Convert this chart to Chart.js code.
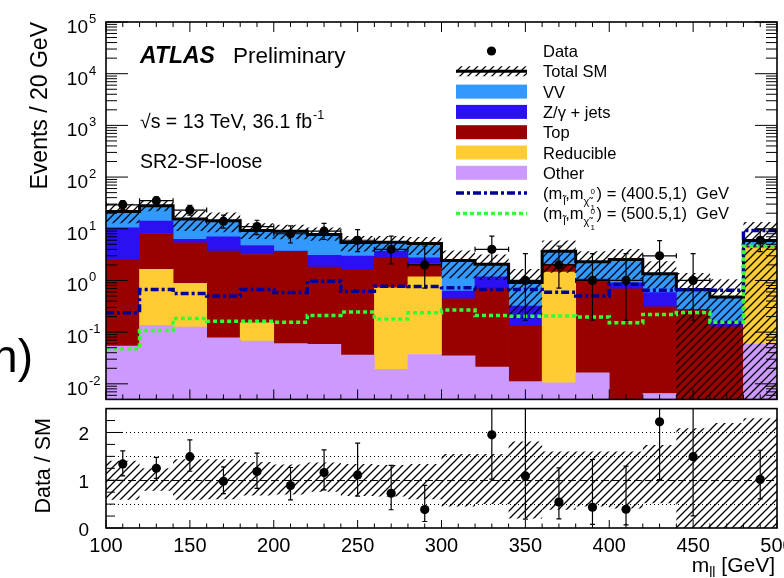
<!DOCTYPE html>
<html>
<head>
<meta charset="utf-8">
<script src="https://cdn.jsdelivr.net/npm/chart.js@4.4.1/dist/chart.umd.min.js"></script>
<style>
  html, body { margin: 0; padding: 0; background: #fff; }
  #wrap { position: relative; width: 784px; height: 578px; overflow: hidden; }
  canvas { position: absolute; left: 0; }
  #main { top: 0; }
  #ratio { top: 404px; }
</style>
</head>
<body>
<div id="wrap">
  <canvas id="main" width="784" height="404"></canvas>
  <canvas id="ratio" width="784" height="174"></canvas>
</div>
<script>
/* m_ll distribution in SR2-SF-loose, stacked SM backgrounds + data + two signal points */

/**************** Data *************************/

// 20 GeV bins in m_ll, last bin holds the overflow
const binLow    = [100, 120, 140, 160, 180, 200, 220, 240, 260, 280, 300, 320, 340, 360, 380, 400, 420, 440, 460, 480];
const binCentre = [110, 130, 150, 170, 190, 210, 230, 250, 270, 290, 310, 330, 350, 370, 390, 410, 430, 450, 470, 490];

// background yields per bin (stack order: bottom -> top)
const other     = [0.054, 0.135, 0.125, 0.078, 0.067, 0.060, 0.058, 0.036, 0.019, 0.037, 0.035, 0.021, 0.011, 0.0105, 0.0164, 0, 0.0065, 0, 0, 0.058];
const reducible = [0, 1.50, 0.75, 0, 0.085, 0, 0, 0, 0.70, 1.14, 0, 0, 0, 1.44, 0, 0, 0, 0, 0, 4.24];
const topBkg    = [2.42, 6.47, 4.49, 3.61, 3.03, 3.47, 1.75, 1.54, 2.03, 0.95, 0.405, 0.67, 0.12, 0.59, 1.034, 0.69, 0.3035, 0.275, 0.127, 0.15];
const zjets     = [7.93, 5.9, 0.85, 3.31, 1.57, 0.16, 1.24, 1.37, 0.94, 0.62, 0.18, 0.49, 0.187, 0.02, 0.01, 0.21, 0.27, 0, 0.036, 0.15];
const vv        = [11.2, 14.0, 9.19, 7.3, 4.55, 5.31, 4.71, 2.45, 1.81, 2.45, 1.82, 0.87, 0.60, 1.63, 1.24, 1.65, 0.77, 0.395, 0.317, 1.3];

// relative uncertainty on total SM (upper / lower edge of band)
const bandUp   = [1.41, 1.25, 1.44, 1.44, 1.38, 1.33, 1.37, 1.34, 1.32, 1.34, 1.55, 1.55, 1.81, 1.60, 1.60, 1.60, 1.74, 2.09, 2.2, 2.3];
const bandDown = [0.59, 0.78, 0.59, 0.60, 0.68, 0.70, 0.76, 0.67, 0.66, 0.60, 0.45, 0.50, 0.20, 0.38, 0.45, 0.41, 0.52, 0, 0, 0];

// signal points
const sig400 = [0.237, 0.67, 0.56, 0.50, 0.67, 0.586, 0.97, 0.62, 0.776, 0.76, 0.72, 0.67, 0.67, 0.594, 0.50, 0.84, 0.65, 0.66, 0.65, 9.3];
const sig500 = [0.048, 0.108, 0.184, 0.163, 0.163, 0.156, 0.21, 0.244, 0.18, 0.237, 0.267, 0.21, 0.204, 0.206, 0.196, 0.152, 0.22, 0.24, 0.156, 4.6];

// observed events and their error bars (null = no events)
const observed = [29, 35, 23, 14, 11, 8, 9, 6, 4, 2, null, 4, 1, 2, 1, 1, 3, 1, null, 6];
const obsLo    = [23.6, 29.1, 18.3, 10.3, 7.7, 5.3, 6.2, 3.6, 2.1, 0.71, null, 2.1, 0.17, 0.71, 0.17, 0.17, 1.37, 0.17, null, 3.6];
const obsHi    = [34.9, 41.4, 28.4, 18.3, 14.6, 11.4, 12.7, 9.6, 7.2, 4.64, null, 7.2, 3.3, 4.64, 3.3, 3.3, 5.92, 3.3, null, 9.6];

// axis labels
const yExps = [-2, -1, 0, 1, 2, 3, 4, 5];
const xLabels = [100, 150, 200, 250, 300, 350, 400, 450, 500];
const ratioLabels = [0, 1, 2];
const legendLabels = ['Data', 'Total SM', 'VV', 'Z/\u03b3 + jets', 'Top', 'Reducible', 'Other'];
const sigMasses = ['400.5', '500.5'];

const yMin = 0.005, yMax = 1e5;

const colVV = '#3399ff', colZ = '#2b10f2', colTop = '#990000', colRed = '#ffcc33', colOther = '#cc99ff';
const colS400 = '#000099', colS500 = '#33ff33';
const dashS400 = [8, 3, 3, 3], dashS500 = [4, 3];

const totalSM = binCentre.map((_, i) => other[i] + reducible[i] + topBkg[i] + zjets[i] + vv[i]);


/**************** Helpers *************************/

const FONT = '"Liberation Sans", Arial, Helvetica, sans-serif';

function txt(ctx, s, x, y, size, align = 'left', style = '') {
    ctx.font = (style + ' ' + size + 'px ' + FONT).trim();
    ctx.textAlign = align;
    ctx.textBaseline = 'alphabetic';
    ctx.fillStyle = '#000';
    ctx.fillText(s, x, y);
    return ctx.measureText(s).width;
}

// rotated title, right end at (x, y)
function vtxt(ctx, s, x, y, size) {
    ctx.save();
    ctx.translate(x, y);
    ctx.rotate(-Math.PI / 2);
    txt(ctx, s, 0, 0, size, 'right');
    ctx.restore();
}

function makeHatch() {
    const p = 8;
    const c = document.createElement('canvas');
    c.width = p; c.height = p;
    const g = c.getContext('2d');
    g.strokeStyle = '#000';
    g.lineWidth = 1.25;
    g.beginPath();
    g.moveTo(0, p); g.lineTo(p, 0);
    g.moveTo(-1, 1); g.lineTo(1, -1);
    g.moveTo(p - 1, p + 1); g.lineTo(p + 1, p - 1);
    g.stroke();
    return g.createPattern(c, 'repeat');
}
const hatch = makeHatch();

// histogram as a stepped line through bin edges
function steps(vals) {
    const pts = vals.map((v, i) => ({x: binLow[i], y: v}));
    pts.push({x: 500, y: vals[vals.length - 1]});
    return pts;
}

function tickMarks(ctx, scale, a, ticks, sides) {
    ctx.beginPath();
    ticks.forEach(t => {
        const p = scale.getPixelForValue(t.v);
        if (sides.includes('bottom')) { ctx.moveTo(p, a.bottom); ctx.lineTo(p, a.bottom - t.len); }
        if (sides.includes('top'))    { ctx.moveTo(p, a.top);    ctx.lineTo(p, a.top + t.len); }
        if (sides.includes('left'))   { ctx.moveTo(a.left, p);   ctx.lineTo(a.left + t.len, p); }
        if (sides.includes('right'))  { ctx.moveTo(a.right, p);  ctx.lineTo(a.right - t.len, p); }
    });
    ctx.stroke();
}

function xTicks(major, minor) {
    const t = [];
    for (let v = 100; v <= 500; v += 10) t.push({v, len: v % 50 === 0 ? major : minor});
    return t;
}

const logTicks = [];
for (let e = -3; e <= 5; e++) {
    for (let k = 1; k <= 9; k++) {
        const v = k * Math.pow(10, e);
        if (v >= yMin && v <= yMax * 1.0001) logTicks.push({v, len: k === 1 ? 22 : 11});
    }
}

const ratioTicks = [];
for (let v = 0; v <= 2.5; v += 0.25) ratioTicks.push({v, len: Number.isInteger(v) ? 17 : 9});

// data error bars drawn from the scales of the given chart
function errorBars(id, axis, vals, lo, hi, xerr) {
    return {
        id,
        afterDatasetsDraw(chart) {
            const {ctx, chartArea: a, scales} = chart;
            const xs = scales.x, ys = scales[axis];
            ctx.save();
            ctx.beginPath();
            ctx.rect(a.left, a.top, a.right - a.left, a.bottom - a.top);
            ctx.clip();
            ctx.strokeStyle = '#000';
            ctx.lineWidth = 1.2;
            vals.forEach((v, i) => {
                if (v === null) return;
                const px = xs.getPixelForValue(binCentre[i]);
                const pl = ys.getPixelForValue(lo[i]);
                const ph = ys.getPixelForValue(hi[i]);
                ctx.beginPath();
                ctx.moveTo(px, pl); ctx.lineTo(px, ph);
                ctx.moveTo(px - 2.5, pl); ctx.lineTo(px + 2.5, pl);
                ctx.moveTo(px - 2.5, ph); ctx.lineTo(px + 2.5, ph);
                if (xerr) {
                    const py = ys.getPixelForValue(v);
                    const l = xs.getPixelForValue(binLow[i]);
                    const r = xs.getPixelForValue(binLow[i] + 20);
                    ctx.moveTo(l, py); ctx.lineTo(r, py);
                    ctx.moveTo(l, py - 2.5); ctx.lineTo(l, py + 2.5);
                    ctx.moveTo(r, py - 2.5); ctx.lineTo(r, py + 2.5);
                }
                ctx.stroke();
            });
            ctx.restore();
        }
    };
}

function sigLabel(ctx, x, y, mass) {
    let cx = x;
    cx += txt(ctx, '(m', cx, y, 16.5);
    txt(ctx, 'l\u0303', cx + 1, y + 6, 11);
    cx += 3;
    cx += txt(ctx, ',m', cx, y, 16.5);
    txt(ctx, '\u03c7\u0303', cx, y + 6, 11);
    txt(ctx, '0', cx + 7, y - 5, 8);
    txt(ctx, '1', cx + 7, y + 11, 8);
    cx += 13;
    txt(ctx, ') = (' + mass + ',1)  GeV', cx, y, 16.5);
}


/**************** Main panel *************************/

const mainDecor = {
    id: 'mainDecor',
    afterDraw(chart) {
        const {ctx, chartArea: a, scales} = chart;
        ctx.save();
        ctx.strokeStyle = '#000';
        ctx.lineWidth = 1;
        tickMarks(ctx, scales.x, a, xTicks(10, 5), ['top', 'bottom']);
        tickMarks(ctx, scales.y, a, logTicks, ['left', 'right']);
        ctx.lineWidth = 1.6;
        ctx.strokeRect(a.left, a.top, a.right - a.left, a.bottom - a.top);

        yExps.forEach(e => {
            const py = scales.y.getPixelForValue(Math.pow(10, e));
            txt(ctx, '10', 88, py + 11, 19, 'right');
            txt(ctx, String(e), 89, py + 1, 13);
        });
        vtxt(ctx, 'Events / 20 GeV', 47, 22, 23);
        txt(ctx, 'n)', 33, 372, 46, 'right');

        // labels
        txt(ctx, 'ATLAS', 140, 63, 23, 'left', 'italic bold');
        txt(ctx, 'Preliminary', 233, 63, 22.5);
        const w = txt(ctx, '\u221as = 13 TeV, 36.1 fb', 140, 128, 19.5);
        txt(ctx, '-1', 140 + w + 1, 119, 12.5);
        txt(ctx, 'SR2-SF-loose', 140, 168, 19.5);

        // legend
        const lx = 456, lw = 71, tx = 543, dy = 20.3;
        const rowY = i => 51 + dy * i;
        const fills = [null, null, colVV, colZ, colTop, colRed, colOther];
        legendLabels.forEach((lab, i) => {
            const y = rowY(i);
            if (i === 0) {
                ctx.fillStyle = '#000';
                ctx.beginPath(); ctx.arc(lx + lw / 2, y, 4.6, 0, 2 * Math.PI); ctx.fill();
            } else if (i === 1) {
                ctx.fillStyle = hatch;
                ctx.fillRect(lx, y - 5, lw, 10);
                ctx.strokeStyle = '#000'; ctx.lineWidth = 3;
                ctx.beginPath(); ctx.moveTo(lx, y); ctx.lineTo(lx + lw, y); ctx.stroke();
            } else {
                ctx.fillStyle = fills[i];
                ctx.fillRect(lx, y - 7, lw, 14);
            }
            txt(ctx, lab, tx, y + 6, 16.5);
        });
        [[colS400, dashS400], [colS500, dashS500]].forEach(([c, d], j) => {
            const y = rowY(7 + j);
            ctx.strokeStyle = c; ctx.lineWidth = 3.5; ctx.setLineDash(d);
            ctx.beginPath(); ctx.moveTo(lx, y); ctx.lineTo(lx + lw, y); ctx.stroke();
            ctx.setLineDash([]);
            sigLabel(ctx, tx, y + 6, sigMasses[j]);
        });
        ctx.restore();
    }
};

const bar = (label, vals, color) => ({
    type: 'bar',
    label,
    data: vals.map((v, i) => ({x: binCentre[i], y: v > 0 ? v : null})),
    backgroundColor: color,
    borderWidth: 0,
    barPercentage: 1,
    categoryPercentage: 1,
    yAxisID: 'y',
    order: 5
});

const stepLine = (label, vals, opts) => Object.assign({
    type: 'line',
    label,
    data: steps(vals),
    stepped: 'before',
    pointRadius: 0,
    fill: false,
    yAxisID: 'y2'
}, opts);

new Chart(document.getElementById('main'), {
    type: 'bar',
    data: {
        datasets: [
            {
                type: 'line', label: 'Data',
                data: binCentre.map((x, i) => ({x, y: observed[i]})),
                showLine: false, pointRadius: 4.6, pointBackgroundColor: '#000',
                pointBorderWidth: 0, yAxisID: 'y2', order: 0
            },
            stepLine('sig500', sig500, {borderColor: colS500, borderWidth: 3.5, borderDash: dashS500, order: 1}),
            stepLine('sig400', sig400, {borderColor: colS400, borderWidth: 3.5, borderDash: dashS400, order: 1}),
            stepLine('Total SM', totalSM, {borderColor: '#000', borderWidth: 3, order: 2}),
            stepLine('band low', totalSM.map((t, i) => Math.max(t * bandDown[i], 1e-3)),
                     {borderColor: 'transparent', borderWidth: 0.01, order: 3}),
            stepLine('band high', totalSM.map((t, i) => t * bandUp[i]),
                     {borderColor: 'transparent', borderWidth: 0.01, fill: '-1', backgroundColor: hatch, order: 3}),
            bar('Other', other, colOther),
            bar('Reducible', reducible, colRed),
            bar('Top', topBkg, colTop),
            bar('Z/gamma + jets', zjets, colZ),
            bar('VV', vv, colVV)
        ]
    },
    options: {
        responsive: false,
        animation: false,
        events: [],
        layout: {padding: {left: 106, right: 7, top: 22, bottom: 4.5}},
        scales: {
            x: {type: 'linear', min: 100, max: 500, offset: false, stacked: true, display: false},
            y: {type: 'logarithmic', min: yMin, max: yMax, stacked: true, display: false},
            y2: {type: 'logarithmic', min: yMin, max: yMax, display: false}
        },
        plugins: {legend: {display: false}, tooltip: {enabled: false}}
    },
    plugins: [errorBars('mainErr', 'y2', observed, obsLo, obsHi, true), mainDecor]
});


/**************** Ratio panel *************************/

const ratio = observed.map((d, i) => d === null ? null : d / totalSM[i]);
const ratioLo = obsLo.map((d, i) => d === null ? null : d / totalSM[i]);
const ratioHi = obsHi.map((d, i) => d === null ? null : d / totalSM[i]);

const ratioDecor = {
    id: 'ratioDecor',
    beforeDatasetsDraw(chart) {
        const {ctx, chartArea: a, scales} = chart;
        ctx.save();
        ctx.strokeStyle = '#000';
        ctx.lineWidth = 1;
        [[0.5, [1, 3]], [1.5, [1, 3]], [2, [1, 3]], [1, [8, 3]]].forEach(([v, d]) => {
            const py = Math.round(scales.y.getPixelForValue(v)) + 0.5;
            ctx.setLineDash(d);
            ctx.beginPath(); ctx.moveTo(a.left, py); ctx.lineTo(a.right, py); ctx.stroke();
        });
        ctx.restore();
    },
    afterDraw(chart) {
        const {ctx, chartArea: a, scales} = chart;
        ctx.save();
        ctx.strokeStyle = '#000';
        ctx.lineWidth = 1;
        tickMarks(ctx, scales.x, a, xTicks(8, 4.5), ['bottom']);
        tickMarks(ctx, scales.y, a, ratioTicks, ['left']);
        ctx.lineWidth = 1.6;
        ctx.strokeRect(a.left, a.top, a.right - a.left, a.bottom - a.top);

        ratioLabels.forEach(v => {
            txt(ctx, String(v), 89, scales.y.getPixelForValue(v) + 8, 19, 'right');
        });
        xLabels.forEach(v => {
            txt(ctx, String(v), scales.x.getPixelForValue(v), 148, 20, 'center');
        });
        vtxt(ctx, 'Data / SM', 50, 14, 21.5);

        // m_ll [GeV], right aligned at the frame edge
        ctx.font = '21px ' + FONT;
        const w1 = ctx.measureText('m').width;
        const w3 = ctx.measureText(' [GeV]').width;
        ctx.font = '14px ' + FONT;
        const w2 = ctx.measureText('ll').width;
        let x0 = 775 - (w1 + w2 + w3);
        x0 += txt(ctx, 'm', x0, 168, 21);
        x0 += txt(ctx, 'll', x0, 173, 14);
        txt(ctx, ' [GeV]', x0, 168, 21);
        ctx.restore();
    }
};

new Chart(document.getElementById('ratio'), {
    type: 'line',
    data: {
        datasets: [
            {
                label: 'Data / SM',
                data: binCentre.map((x, i) => ({x, y: ratio[i]})),
                showLine: false, pointRadius: 4.6, pointBackgroundColor: '#000',
                pointBorderWidth: 0, order: 0
            },
            {
                label: 'band low', data: steps(bandDown), stepped: 'before',
                borderColor: 'transparent', borderWidth: 0.01, pointRadius: 0, fill: false, order: 1
            },
            {
                label: 'band high', data: steps(bandUp), stepped: 'before',
                borderColor: 'transparent', borderWidth: 0.01, pointRadius: 0,
                fill: '-1', backgroundColor: hatch, order: 1
            }
        ]
    },
    options: {
        responsive: false,
        animation: false,
        events: [],
        layout: {padding: {left: 106, right: 7, top: 4, bottom: 50}},
        scales: {
            x: {type: 'linear', min: 100, max: 500, display: false},
            y: {type: 'linear', min: 0, max: 2.5, display: false}
        },
        plugins: {legend: {display: false}, tooltip: {enabled: false}}
    },
    plugins: [errorBars('ratioErr', 'y', ratio, ratioLo, ratioHi, false), ratioDecor]
});
</script>
</body>
</html>
